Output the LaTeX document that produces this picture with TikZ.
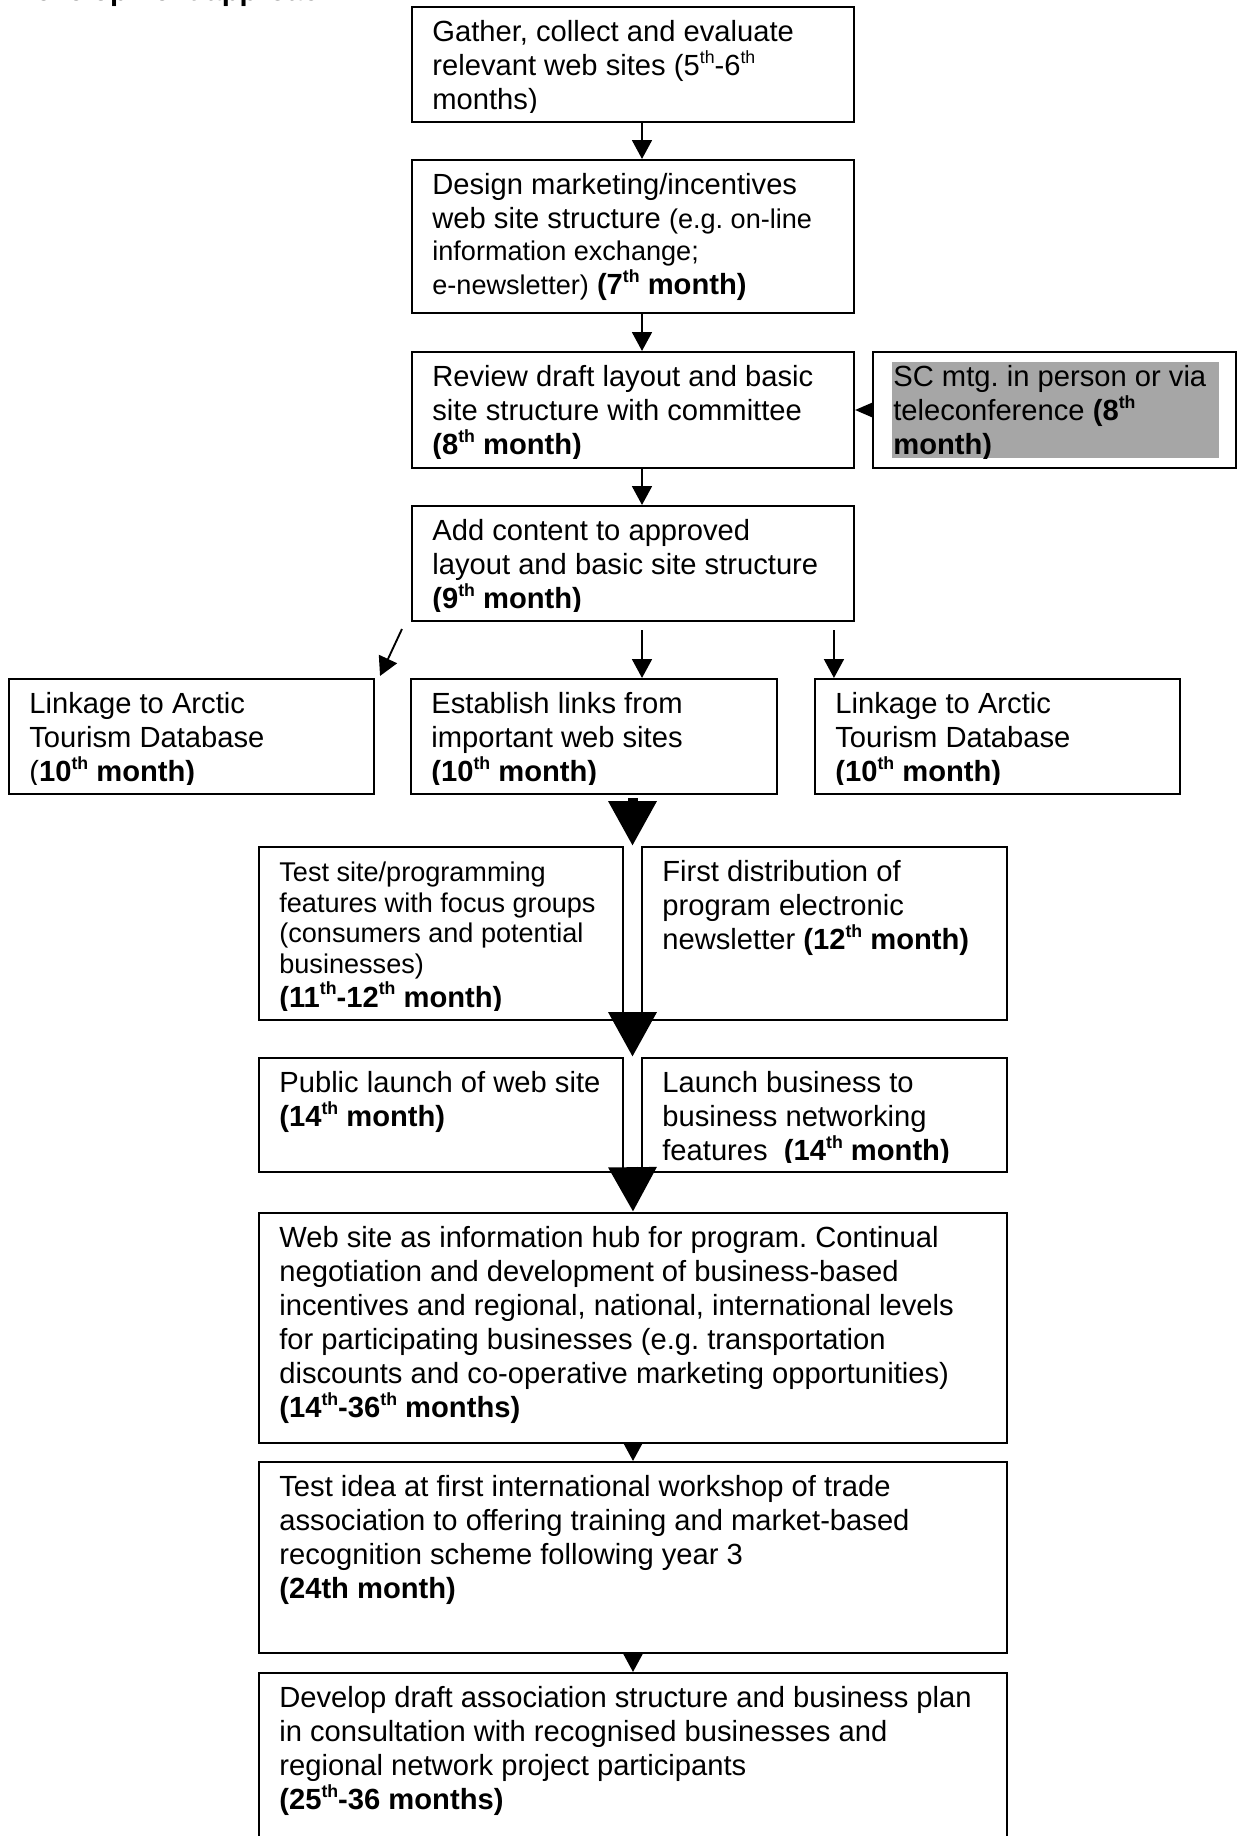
\documentclass[tikz,border=0pt]{standalone}
\usepackage{fontspec}
\setmainfont{Liberation Sans}
\usetikzlibrary{arrows.meta,calc,fit}

\definecolor{scgray}{RGB}{166,166,166}

\newcommand{\bodysz}{\fontsize{14}{16.3}\selectfont}
\newcommand{\smallsz}{\fontsize{13}{14.6}\selectfont}
\newcommand{\sups}[1]{\raisebox{0.42em}{\fontsize{8.5}{9}\selectfont #1}}

% a stage box given by its corners (x1,y1) and (x2,y2) on the pixel grid
\newcommand{\stagebox}[5]{%
  \coordinate (#1-nw) at (#2,#3);
  \coordinate (#1-se) at (#4,#5);
  \node[boxframe, fit=(#1-nw)(#1-se)] (#1) {};
}
% the text of a stage box, clipped a little above the bottom border
\newcommand{\stagetext}[3][\bodysz]{%
  \begin{scope}
    \clip ($(#2.north west)+(2,2)$) rectangle ($(#2.south east)+(-2,-11)$);
    \node[boxtext] (#2-txt) at ($(#2.north west)+(21,36)$)
      {\parbox[t]{420pt}{\raggedright\frenchspacing#1 #3}};
  \end{scope}
}

\begin{document}
\begin{tikzpicture}[x=0.48pt,y=-0.48pt,
  boxframe/.style={draw=black, line width=1pt, fill=white, rectangle, inner sep=0pt},
  boxtext/.style={anchor=base west, inner sep=0pt},
  arr/.style={-{Triangle[width=9.5pt,length=9pt]}, line width=0.9pt},
  scarr/.style={-{Triangle[width=7.5pt,length=9pt]}, line width=0.9pt},
  bigarr/.style={-{Triangle[width=22pt,length=21.5pt]}, line width=4.8pt}]

\fill[white] (0,0) rectangle (1240,1836);
\useasboundingbox (0,0) rectangle (1240,1836);

% heading, mostly above the page edge
\node[boxtext] (title) at (14,1) {\fontsize{14}{16}\selectfont\bfseries Development approach};

% stages
\stagebox{gather}{412}{7}{854}{122}
\stagetext{gather}{Gather, collect and evaluate\\ relevant web sites (5\sups{th}-6\sups{th}\\ months)}

\stagebox{design}{412}{160}{854}{313}
\stagetext{design}{Design marketing/incentives\\ web site structure {\smallsz (e.g. on-line}\\[-1pt] {\smallsz information exchange;}\\ {\smallsz e-newsletter)} \textbf{(7\sups{th} month)}}

\stagebox{review}{412}{352}{854}{468}
\stagetext{review}{Review draft layout and basic\\ site structure with committee\\ \textbf{(8\sups{th} month)}}

\stagebox{sc}{873}{352}{1236}{468}
\fill[scgray] ($(sc.north west)+(20,11)$) rectangle ($(sc.south east)+(-18,-11)$);
\begin{scope}
  \clip ($(sc.north west)+(20,11)$) rectangle ($(sc.south east)+(-18,-11)$);
  \node[boxtext] (sc-txt) at ($(sc.north west)+(21,36)$)
    {\parbox[t]{420pt}{\raggedright\frenchspacing\bodysz SC mtg. in person or via\\ teleconference \textbf{(8\sups{th}}\\ \textbf{month)}}};
\end{scope}

\stagebox{add}{412}{506}{854}{621}
\stagetext{add}{Add content to approved\\ layout and basic site structure\\ \textbf{(9\sups{th} month)}}

\stagebox{linkL}{9}{679}{374}{794}
\stagetext{linkL}{Linkage to Arctic\\ Tourism Database\\ (\textbf{10\sups{th} month)}}

\stagebox{establish}{411}{679}{777}{794}
\stagetext{establish}{Establish links from\\ important web sites\\ \textbf{(10\sups{th} month)}}

\stagebox{linkR}{815}{679}{1180}{794}
\stagetext{linkR}{Linkage to Arctic\\ Tourism Database\\ \textbf{(10\sups{th} month)}}

\stagebox{testsite}{259}{847}{623}{1020}
\stagetext[\smallsz]{testsite}{Test site/programming\\ features with focus groups\\ (consumers and potential\\ businesses)\\[0.5pt] {\bodysz\bfseries (11\sups{th}-12\sups{th} month)}}

\stagebox{firstdist}{642}{847}{1007}{1020}
\stagetext{firstdist}{First distribution of\\ program electronic\\ newsletter \textbf{(12\sups{th} month)}}

\stagebox{public}{259}{1058}{623}{1172}
\stagetext{public}{Public launch of web site\\ \textbf{(14\sups{th} month)}}

\stagebox{launch}{642}{1058}{1007}{1172}
\stagetext{launch}{Launch business to\\ business networking\\ features\ \ \textbf{(14\sups{th} month)}}

\stagebox{hub}{259}{1213}{1007}{1443}
\stagetext{hub}{Web site as information hub for program. Continual\\ negotiation and development of business-based\\ incentives and regional, national, international levels\\ for participating businesses (e.g. transportation\\ discounts and co-operative marketing opportunities)\\ \textbf{(14\sups{th}-36\sups{th} months)}}

\stagebox{testidea}{259}{1462}{1007}{1653}
\stagetext{testidea}{Test idea at first international workshop of trade\\ association to offering training and market-based\\ recognition scheme following year 3\\ \textbf{(24th month)}}

\stagebox{develop}{259}{1673}{1007}{1880}
\stagetext{develop}{Develop draft association structure and business plan\\ in consultation with recognised businesses and\\ regional network project participants\\ \textbf{(25\sups{th}-36 months)}}

% connectors
\coordinate (gap) at ($(testsite.east)!0.5!(firstdist.west)$);
\coordinate (rtip) at ($(linkR.north west)+(20,0)$);

\draw[arr] ($(gather.south)+(9,0)$) -- ($(design.north)+(9,0)$);
\draw[arr] ($(design.south)+(9,0)$) -- ($(review.north)+(9,0)$);
\draw[scarr] (sc.west) -- (review.east);
\draw[arr] ($(review.south)+(9,0)$) -- ($(add.north)+(9,0)$);
\draw[arr] ($(add.south west)+(-9,7)$) -- ($(linkL.north east)+(5,-2)$);
\draw[arr] ($(add.south)+(9,8)$) -- ($(establish.north -| add.south)+(9,0)$);
\draw[arr] ($(rtip |- add.south)+(0,8)$) -- (rtip);

\draw[bigarr] ($(establish.south -| gap)+(0,3)$) -- (testsite.north -| gap);
\draw[bigarr] ($(testsite.south -| gap)+(0,-7)$) -- (public.north -| gap);
\draw[bigarr] ($(public.south -| gap)+(0,-6)$) -- (hub.north);

\draw[arr] (hub.south) -- (testidea.north);
\draw[arr] (testidea.south) -- (develop.north);
\end{tikzpicture}
\end{document}
